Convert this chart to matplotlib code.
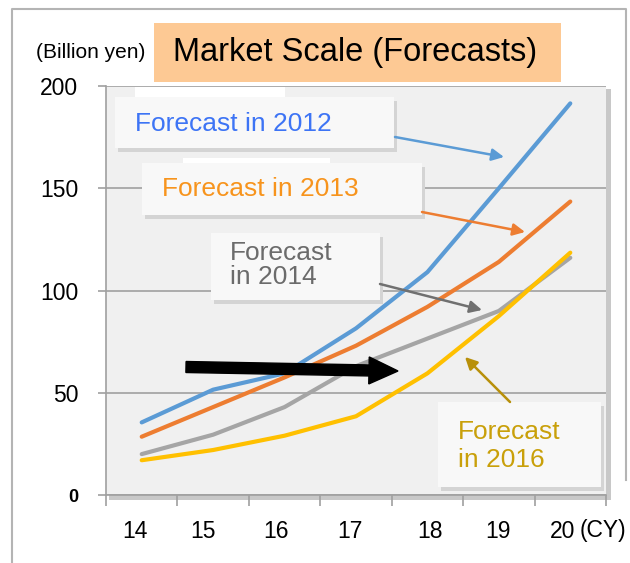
import matplotlib.pyplot as plt
from matplotlib.patches import Rectangle, FancyArrow
from matplotlib.transforms import IdentityTransform

plt.rcParams['font.family'] = ['Liberation Sans', 'DejaVu Sans']

# market scale, billion yen
years = ["14", "15", "16", "17", "18", "19", "20"]
fc2012 = [35.5, 51.5, 59.5, 81.5, 109, 150, 191.5]
fc2013 = [28.5, 43, 57.5, 73, 92, 114, 143.5]
fc2014 = [20, 29.5, 43, 63, 76.5, 90, 116]
fc2016 = [17, 22, 29, 38.5, 59.5, 87.5, 118.5]
yticks = [0, 50, 100, 150, 200]

W, H = 630, 563
fig = plt.figure(figsize=(W / 100, H / 100), dpi=100)


def fx(x):
    return x / W


def fy(y):
    return 1 - y / H


def fig_rect(x0, y0, x1, y1, zorder=-1, **kw):
    r = Rectangle((fx(x0), fy(y1)), fx(x1) - fx(x0), fy(y0) - fy(y1),
                  transform=fig.transFigure, zorder=zorder, **kw)
    fig.patches.append(r)
    return r


# outer frame
fig.add_artist(plt.Line2D([fx(12), fx(12), fx(626), fx(626)],
                          [0, fy(9), fy(9), fy(480)],
                          color="#b4b4b4", lw=1.5, transform=fig.transFigure, zorder=-2))

# plot area shadow
fig_rect(109, 89, 611, 500, fc="#c8c8c8", ec="none")

ax = fig.add_axes([fx(106), fy(495), fx(606) - fx(106), fy(86) - fy(495)])
ax.set_facecolor("#f0f0f0")

x = list(range(len(years)))
ax.plot(x, fc2012, color="#5b9bd5", lw=3, zorder=4, solid_capstyle="round")
ax.plot(x, fc2013, color="#ed7d31", lw=3, zorder=4, solid_capstyle="round")
ax.plot(x, fc2014, color="#a5a5a5", lw=3, zorder=4, solid_capstyle="round")
ax.plot(x, fc2016, color="#ffc000", lw=3, zorder=4, solid_capstyle="round")

ax.set_xlim(-0.5, 6.5)
ax.set_ylim(0, 200)
ax.set_yticks(yticks)
ax.set_yticklabels([str(v) for v in yticks], fontsize=16.5)
lab0 = ax.get_yticklabels()[0]
lab0.set_fontweight("bold")
lab0.set_fontsize(13)
ax.tick_params(axis="y", length=6, width=1.2, color="#a0a0a0", pad=14)
ax.grid(axis="y", color="#a0a0a0", lw=1.2, zorder=1)
ax.set_axisbelow(True)

# category labels sit a little off-centre in the original
label_pos = [-0.09, 0.86, 1.88, 2.91, 4.04, 4.99, 5.89]
ax.set_xticks(label_pos)
ax.set_xticklabels(years, fontsize=16.5)
ax.tick_params(axis="x", length=0, pad=18)
ax.set_xticks([i - 0.5 for i in range(len(years) + 1)], minor=True)
ax.tick_params(axis="x", which="minor", length=8, width=1.2, color="#a0a0a0")

for s in ["top", "right"]:
    ax.spines[s].set_visible(False)
for s in ["left", "bottom"]:
    ax.spines[s].set_color("#a0a0a0")
    ax.spines[s].set_linewidth(1.2)

fig.text(fx(580), fy(530), "(CY)", fontsize=16.5, va="center", ha="left")

# title
fig_rect(154, 23, 561, 82, zorder=1, fc="#fdc994", ec="none")
fig.text(fx(173), fy(53), "Market Scale (Forecasts)", fontsize=23.5, va="center", zorder=2)
fig.text(fx(36), fy(52), "(Billion yen)", fontsize=15, va="center")


# annotation boxes
def label_box(x0, y0, x1, y1, txt, color, tx, ty, ls=1.0):
    fig_rect(x0 + 3, y0 + 4, x1 + 3, y1 + 4, zorder=1, fc="#d4d4d4", ec="none")
    fig_rect(x0, y0, x1, y1, zorder=1.1, fc="#f8f8f8", ec="none")
    fig.text(fx(tx), fy(ty), txt, color=color, fontsize=19, va="center",
             ha="left", linespacing=ls, zorder=1.2)


fig_rect(135, 87, 285, 150, zorder=1, fc="#ffffff", ec="none")
label_box(115, 97, 394, 148, "Forecast in 2012", "#3d74f5", 135, 124)
fig_rect(183, 158, 330, 218, zorder=1, fc="#ffffff", ec="none")
label_box(142, 163, 422, 215, "Forecast in 2013", "#f7941d", 162, 189)
label_box(211, 233, 380, 300, "Forecast\nin 2014", "#6b6b6b", 230, 265)
label_box(438, 402, 601, 487, "Forecast\nin 2016", "#c9a00a", 458, 446, ls=1.25)


def thin_arrow(x0, y0, x1, y1, color):
    fig.add_artist(plt.Annotation("", xy=(x1, H - y1), xytext=(x0, H - y0),
                                  xycoords="figure pixels", textcoords="figure pixels",
                                  arrowprops=dict(arrowstyle="-|>", color=color, lw=1.8,
                                                  mutation_scale=18, shrinkA=0, shrinkB=0),
                                  zorder=3))


thin_arrow(395, 137, 504, 157, "#5b9bd5")
thin_arrow(422, 212, 525, 232, "#ed7d31")
thin_arrow(380, 284, 482, 310, "#707070")
thin_arrow(510, 402, 465, 357, "#b8900a")

# big black arrow
fig.add_artist(FancyArrow(186, H - 367, 212, -4, width=11, head_width=27,
                          head_length=29, length_includes_head=True,
                          color="black", transform=IdentityTransform(), zorder=5))

fig.savefig("out.png", dpi=100)
